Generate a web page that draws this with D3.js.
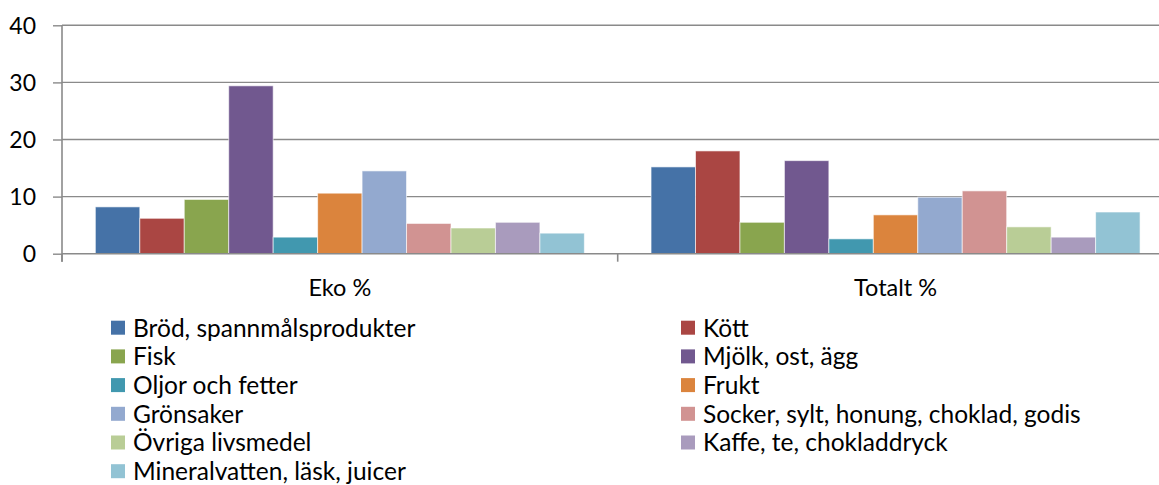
<!DOCTYPE html>
<html>
<head>
<meta charset="utf-8">
<script src="https://cdn.jsdelivr.net/npm/d3@7"></script>
<style>
  html, body { margin: 0; padding: 0; background: #fff; }
  svg { display: block; font-family: Lato, "Open Sans", sans-serif; }
</style>
</head>
<body>
<svg id="chart" width="1159" height="485"></svg>
<script>
const categories = ["Eko %", "Totalt %"];
const seriesNames = [
  "Bröd, spannmålsprodukter", "Kött", "Fisk", "Mjölk, ost, ägg",
  "Oljor och fetter", "Frukt", "Grönsaker", "Socker, sylt, honung, choklad, godis",
  "Övriga livsmedel", "Kaffe, te, chokladdryck", "Mineralvatten, läsk, juicer"
];
const ekoValues =    [8.2, 6.2, 9.5, 29.4, 2.9, 10.6, 14.5, 5.3, 4.5, 5.5, 3.6];
const totaltValues = [15.2, 18.0, 5.5, 16.3, 2.6, 6.8, 9.9, 11.0, 4.7, 2.9, 7.3];
const seriesColors = ["#4572A7", "#AA4643", "#89A54E", "#71588F", "#4198AF", "#DB843D",
                      "#93A9CF", "#D19392", "#B9CD96", "#A99BBD", "#92C3D4"];
const yTicks = [0, 10, 20, 30, 40];

const svg = d3.select("#chart");
const mLeft = 62, mRight = 1173.4, mTop = 25.3, mBottom = 253.7;

const x0 = d3.scaleBand().domain(categories).range([mLeft, mRight]).padding(0);
const gw = x0.bandwidth();
const x1 = d3.scaleBand().domain(seriesNames).range([gw * 0.06, gw * 0.94]).padding(0);
const y = d3.scaleLinear().domain([0, 40]).range([mBottom, mTop]);
const color = d3.scaleOrdinal().domain(seriesNames).range(seriesColors);

// gridlines
svg.append("g")
  .selectAll("line").data(yTicks.filter(d => d > 0)).join("line")
  .attr("x1", mLeft).attr("x2", mRight)
  .attr("y1", d => y(d)).attr("y2", d => y(d))
  .attr("stroke", "#8a8a8a").attr("stroke-width", 1.4);

// bars
const valuesByCat = { "Eko %": ekoValues, "Totalt %": totaltValues };
const groups = svg.append("g").selectAll("g").data(categories).join("g")
  .attr("transform", d => `translate(${x0(d)},0)`);
groups.selectAll("rect")
  .data(c => seriesNames.map((s, i) => ({ s, v: valuesByCat[c][i] })))
  .join("rect")
  .attr("x", d => x1(d.s))
  .attr("width", x1.bandwidth())
  .attr("y", d => y(d.v))
  .attr("height", d => y(0) - y(d.v))
  .attr("fill", d => color(d.s))
  .attr("stroke", "rgba(255,255,255,0.6)")
  .attr("stroke-width", 1);

// y axis
const yAxis = d3.axisLeft(y).tickValues(yTicks).tickSize(9).tickPadding(17);
const gy = svg.append("g").attr("transform", `translate(${mLeft},0)`).call(yAxis);
gy.select(".domain").remove();
gy.selectAll(".tick line").attr("stroke", "#8a8a8a").attr("stroke-width", 1.4);
gy.selectAll(".tick text").attr("font-size", 23).attr("fill", "#000")
  .attr("font-family", "Lato, 'Open Sans', sans-serif").attr("dy", "0.36em");
svg.append("line").attr("x1", mLeft).attr("x2", mLeft).attr("y1", mTop).attr("y2", mBottom + 8)
  .attr("stroke", "#8a8a8a").attr("stroke-width", 1.6);

// x axis
svg.append("line").attr("x1", mLeft).attr("x2", mRight).attr("y1", mBottom).attr("y2", mBottom)
  .attr("stroke", "#8a8a8a").attr("stroke-width", 1.6);
const bounds = [mLeft, ...categories.map(c => x0(c) + gw)];
svg.append("g").selectAll("line").data(bounds).join("line")
  .attr("x1", d => d).attr("x2", d => d).attr("y1", mBottom).attr("y2", mBottom + 8)
  .attr("stroke", "#8a8a8a").attr("stroke-width", 1.6);
svg.append("g").selectAll("text").data(categories).join("text")
  .attr("x", d => x0(d) + gw / 2).attr("y", 296)
  .attr("text-anchor", "middle").attr("font-size", 23.5).attr("fill", "#000")
  .text(d => d);

// legend
const legend = svg.append("g");
const rowH = 28.7;
seriesNames.forEach((s, i) => {
  const col = i % 2, row = Math.floor(i / 2);
  const lx = col === 0 ? 111 : 681;
  const cy = 327.7 + row * rowH;
  legend.append("rect").attr("x", lx).attr("y", cy - 7).attr("width", 14).attr("height", 14)
    .attr("fill", color(s));
  legend.append("text").attr("x", lx + 22).attr("y", cy).attr("dy", "0.36em")
    .attr("font-size", 24.5).attr("fill", "#000").text(s);
});
</script>
</body>
</html>
